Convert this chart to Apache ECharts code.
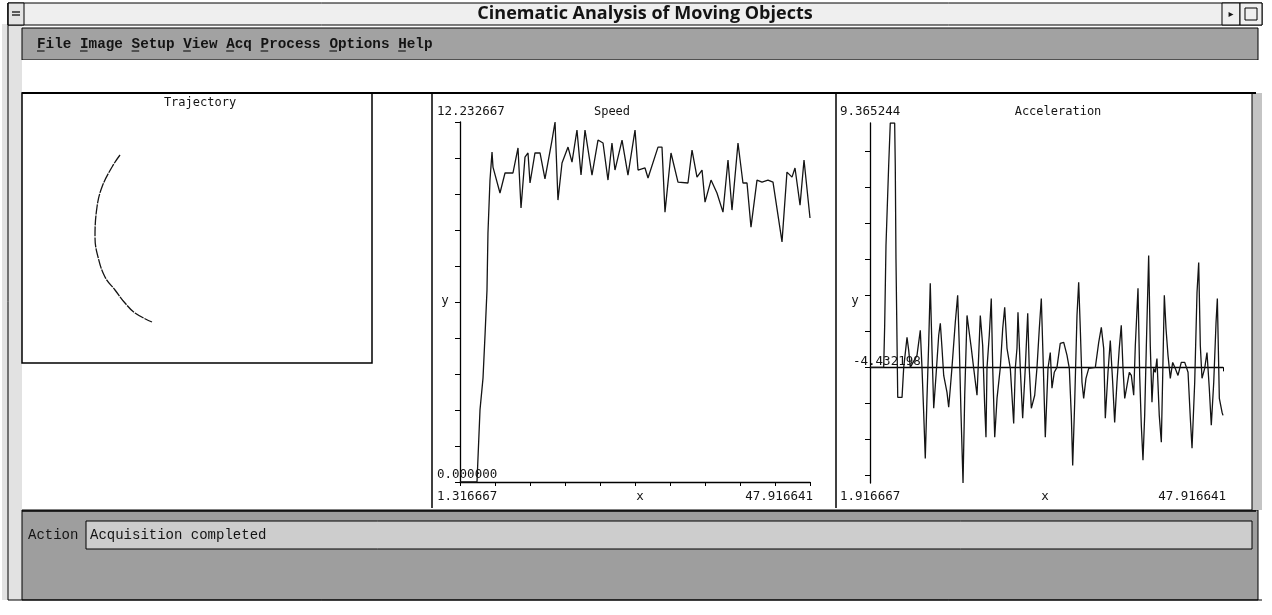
<!DOCTYPE html>
<html><head><meta charset="utf-8">
<script src="https://cdn.jsdelivr.net/npm/echarts@6/dist/echarts.min.js"></script>
<style>html,body{margin:0;padding:0;background:#fff}#c{width:1272px;height:615px}</style>
</head><body><div id="c"></div>
<script>
// ---------- texts ----------
const windowTitle = 'Cinematic Analysis of Moving Objects';
const menuItems = ['File','Image','Setup','View','Acq','Process','Options','Help'];
const panelTitles = ['Trajectory','Speed','Acceleration'];
const statusLabel = 'Action';
const statusText = 'Acquisition completed';

// ---------- trajectory (position units) ----------
const trajX = [9.8, 9.0, 8.0, 7.5, 7.3, 7.6, 8.3, 9.3, 10.3, 11.3, 13.0];
const trajY = [20.8, 19.6, 17.6, 15.6, 12.6, 10.6, 8.6, 7.3, 6.0, 5.0, 4.1];

// ---------- speed ----------
const speedRange = {xMin: 1.316667, xMax: 47.916641, yMin: 0, yMax: 12.232667};
const speedTickLabels = {top: '12.232667', bottom: '0.000000', left: '1.316667', right: '47.916641'};
const speedX = [1.316667, 3.58, 3.98, 4.38, 4.65, 4.91, 5.04, 5.31, 5.58, 5.71, 6.64, 7.31, 8.37, 9.04, 9.44, 9.97, 10.37, 10.64, 11.30, 11.97, 12.63, 13.57, 13.97, 14.36, 14.90, 15.70, 16.23, 16.89, 17.43, 17.96, 18.89, 19.69, 20.36, 21.02, 21.55, 21.95, 22.89, 23.68, 24.62, 25.02, 25.95, 26.35, 27.68, 28.21, 28.61, 29.41, 30.34, 31.67, 32.21, 32.87, 33.54, 33.94, 34.74, 35.53, 36.33, 37.00, 37.53, 38.33, 38.99, 39.53, 40.06, 40.86, 41.53, 42.32, 42.99, 44.19, 44.85, 45.52, 45.92, 46.59, 47.12, 47.916641];
const speedY = [0, 0, 2.45, 3.53, 5.00, 6.52, 8.46, 10.26, 11.21, 10.70, 9.82, 10.50, 10.50, 11.35, 9.31, 11.04, 11.18, 10.16, 11.18, 11.18, 10.30, 11.62, 12.232667, 9.58, 10.84, 11.38, 10.87, 11.96, 10.43, 11.96, 10.43, 11.62, 11.52, 10.26, 11.52, 10.60, 11.62, 10.43, 11.96, 10.60, 10.67, 10.33, 11.38, 11.38, 9.17, 11.18, 10.19, 10.16, 11.28, 10.36, 10.60, 9.51, 10.26, 9.82, 9.17, 10.94, 9.24, 11.52, 10.16, 10.16, 8.66, 10.26, 10.19, 10.26, 10.19, 8.16, 10.53, 10.36, 10.67, 9.41, 10.94, 8.97];

// ---------- acceleration ----------
const accelRange = {xMin: 1.916667, xMax: 47.916641, yMin: -4.432198, yMax: 9.365244};
const accelTickLabels = {top: '9.365244', bottom: '-4.432198', left: '1.916667', right: '47.916641'};
const accelX = [1.916667, 3.70, 3.83, 4.00, 4.35, 4.56, 5.13, 5.21, 5.30, 5.53,
  6.09, 6.31, 6.74, 6.96, 7.17, 8.04, 8.47, 8.69, 8.91, 9.12,
  9.34, 9.57, 9.77, 9.99, 10.22, 10.52, 10.87, 11.08, 11.30, 11.52,
  11.95, 12.17, 12.38, 12.60, 13.03, 13.34, 13.55, 13.77, 14.04, 14.26,
  14.56, 14.78, 15.12, 15.43, 15.86, 16.08, 16.29, 16.60, 16.86, 17.03,
  17.16, 17.46, 17.72, 17.91, 18.17, 18.47, 18.90, 19.21, 19.47, 19.77,
  20.20, 20.64, 20.85, 21.07, 21.20, 21.50, 21.81, 22.15, 22.47, 22.67,
  22.94, 23.38, 23.68, 23.98, 24.24, 24.46, 24.76, 25.11, 25.41, 25.63,
  25.93, 26.28, 26.71, 27.16, 27.59, 27.89, 28.15, 28.33, 28.59, 28.89,
  29.11, 29.32, 29.54, 29.76, 30.06, 30.42, 31.28, 31.72, 32.06, 32.37,
  32.58, 32.93, 33.23, 33.54, 33.80, 34.10, 34.40, 34.66, 34.88, 35.11,
  35.41, 35.71, 35.97, 36.28, 36.49, 36.84, 37.06, 37.27, 37.49, 37.71,
  37.92, 38.23, 38.44, 38.66, 38.88, 39.09, 39.31, 39.61, 39.88, 40.06,
  40.27, 40.49, 40.75, 41.05, 41.36, 41.70, 42.05, 42.48, 42.93, 43.36,
  43.66, 43.88, 44.23, 44.53, 44.75, 44.96, 45.18, 45.53, 45.83, 46.13,
  46.39, 46.71, 47.01, 47.18, 47.44, 47.79, 47.916641];
const accelY = [0, 0, 1.61, 4.68, 7.74, 9.365244, 9.365244, 7.74, 4.18, -1.15,
  -1.15, 0, 1.15, 0.65, 0, 0.46, 1.42, 0, -1.72, -3.49,
  -1.19, 0.96, 3.22, 0.73, -1.57, -0.31, 1.23, 1.69, 0.73, -0.31,
  -0.96, -1.53, -0.80, 0, 1.72, 2.76, 0.84, -1.72, -4.432198, -1.07,
  1.99, 1.49, 0.73, -0.04, -1.07, 0.46, 1.99, 0.84, -1.46, -2.68,
  -0.04, 1.23, 2.64, -0.04, -2.68, -1.19, 0, 1.49, 2.30, 0.73,
  -0.04, -2.15, -0.04, 0.73, 2.11, -0.04, -1.95, -0.04, 2.07, -0.04,
  -1.57, -1.07, 0, 1.49, 2.64, 0.46, -2.68, -0.04, 0.57, -0.80,
  -0.19, 0, 0.92, 0.96, 0.46, -0.04, -1.84, -3.76, -1.34, 1.99,
  3.26, 1.49, -0.57, -1.19, -0.42, -0.04, 0, 0.96, 1.53, 0.73,
  -1.95, -0.19, 1.03, -0.57, -2.11, -0.57, 0.73, 1.61, 0, -1.19,
  -0.69, -0.19, -0.31, -1.07, 0.84, 3.03, -0.31, -2.22, -3.56, -1.84,
  0.73, 4.29, 0.84, -1.34, -0.04, -0.19, 0.34, -1.84, -2.87, -0.31,
  2.76, 1.49, 0.46, -0.42, 0.19, -0.04, -0.31, 0.19, 0.19, -0.19,
  -1.95, -3.10, -0.57, 2.87, 4.02, 0.84, -0.42, -0.04, 0.57, -0.80,
  -2.22, -0.57, 1.72, 2.64, -1.19, -1.72, -1.84];

// ---------- helpers ----------
const zip = (a, b) => a.slice(0, Math.min(a.length, b.length)).map((v, i) => [v, b[i]]);
const evenTicks = (lo, hi, n) => Array.from({length: n + 1}, (_, i) => lo + (hi - lo) * i / n);
function zeroTicks(lo, hi, n) {
  const step = (hi - lo) / n, out = [];
  for (let k = Math.ceil(lo / step); k * step <= hi; k++) out.push(k * step);
  return out;
}

const MONO = '"DejaVu Sans Mono", monospace';
const INK = '#141414';
const txt = (text, x, y, font, align, extra) => Object.assign({
  type: 'text', x, y, z: 50,
  style: {text, font, fill: INK, align: align || 'left', verticalAlign: 'middle'}
}, extra || {});
const rect = (x, y, w, h, fill, stroke, lw, z) => ({
  type: 'rect', z: z === undefined ? -10 : z, shape: {x, y, width: w, height: h},
  style: {fill: fill || 'none', stroke: stroke || null, lineWidth: lw || 1}
});
const line = (x1, y1, x2, y2, lw, z) => ({
  type: 'line', z: z === undefined ? 5 : z, shape: {x1, y1, x2, y2},
  style: {stroke: '#000', lineWidth: lw || 1}
});

// ---------- chrome ----------
const graphics = [];
graphics.push(rect(0, 0, 1272, 615, '#ffffff', null, 1, -30));
graphics.push(rect(2, 24, 20, 576, '#e2e2e2', null, 1, -20));
graphics.push(line(8, 3, 8, 600, 1));
// title bar
graphics.push(rect(8, 3, 1254, 22, '#efefef', '#000', 1, -15));
graphics.push(rect(8, 3, 16, 22, '#e4e4e4', '#000', 1, -14));
graphics.push(line(12, 12, 20, 12, 1.2, 6));
graphics.push(line(12, 15, 20, 15, 1.2, 6));
graphics.push(rect(1222, 3, 18, 22, '#efefef', '#000', 1, -14));
graphics.push(rect(1240, 3, 22, 22, '#efefef', '#000', 1, -14));
graphics.push(rect(1245, 8, 12, 12, 'none', '#000', 1, 6));
graphics.push(txt('\u25B8', 1231, 14, '10px "DejaVu Sans"', 'center'));
graphics.push(txt(windowTitle, 645, 14, 'bold 18px "Open Sans", sans-serif', 'center'));
// menu bar
graphics.push(rect(22, 28, 1236, 32, '#a2a2a2', '#000', 1, -15));
const menuFont = 'bold 14.3px "Liberation Mono", monospace';
const cw = 8.6;
let mx = 37;
menuItems.forEach(m => {
  graphics.push(txt(m, mx, 44, menuFont, 'left'));
  graphics.push(line(mx, 51, mx + cw - 1, 51, 1, 6));
  mx += (m.length + 1) * cw;
});
// content area
graphics.push(rect(22, 60, 1236, 450, '#ffffff', null, 1, -15));
graphics.push(rect(1252, 93, 10, 417, '#c4c4c4', null, 1, -14));
graphics.push(line(22, 93, 1256, 93, 2));
graphics.push(line(432, 93, 432, 508, 1.5));
graphics.push(line(836, 93, 836, 508, 1.5));
graphics.push(line(1252, 93, 1252, 510, 1));
// trajectory box
graphics.push(rect(22, 93, 350, 270, 'none', '#000', 1.5, 5));
graphics.push(txt(panelTitles[0], 200, 103, '12px ' + MONO, 'center'));
// speed panel labels
graphics.push(txt(speedTickLabels.top, 437, 112, '12.5px ' + MONO, 'left'));
graphics.push(txt(panelTitles[1], 612, 112, '12px ' + MONO, 'center'));
graphics.push(txt(speedTickLabels.bottom, 437, 475, '12.5px ' + MONO, 'left'));
graphics.push(txt(speedTickLabels.left, 437, 497, '12.5px ' + MONO, 'left'));
graphics.push(txt('x', 640, 497, '12.5px ' + MONO, 'center'));
graphics.push(txt(speedTickLabels.right, 813, 497, '12.5px ' + MONO, 'right'));
graphics.push(txt('y', 445, 301, '12.5px ' + MONO, 'center'));
// acceleration panel labels
graphics.push(txt(accelTickLabels.top, 840, 112, '12.5px ' + MONO, 'left'));
graphics.push(txt(panelTitles[2], 1058, 112, '12px ' + MONO, 'center'));
graphics.push(txt(accelTickLabels.bottom, 853, 362, '12.5px ' + MONO, 'left'));
graphics.push(txt(accelTickLabels.left, 840, 497, '12.5px ' + MONO, 'left'));
graphics.push(txt('x', 1045, 497, '12.5px ' + MONO, 'center'));
graphics.push(txt(accelTickLabels.right, 1226, 497, '12.5px ' + MONO, 'right'));
graphics.push(txt('y', 855, 301, '12.5px ' + MONO, 'center'));
// status area
graphics.push(rect(22, 510, 1236, 90, '#9e9e9e', '#000', 1, -15));
graphics.push(line(22, 511, 1256, 511, 1.5));
graphics.push(rect(86, 521, 1166, 28, '#cdcdcd', '#000', 1, -14));
graphics.push(txt(statusLabel, 28, 535, '14px "Liberation Mono", monospace', 'left'));
graphics.push(txt(statusText, 90, 535, '14px "Liberation Mono", monospace', 'left'));
graphics.push(line(8, 600, 1262, 600, 1));

// ---------- chart ----------
const chart = echarts.init(document.getElementById('c'), null, {renderer: 'canvas'});
const axisLineStyle = {color: '#000', width: 1.3};
const hiddenAxis = (min, max) => ({type: 'value', min, max, show: false});

const option = {
  animation: false,
  backgroundColor: '#ffffff',
  grid: [
    {left: 22, top: 93, width: 350, height: 270, show: false},
    {left: 460, top: 122, width: 350, height: 360, show: false},
    {left: 870, top: 123, width: 353, height: 360, show: false}
  ],
  xAxis: [
    Object.assign(hiddenAxis(0, 35), {gridIndex: 0}),
    {
      type: 'value', gridIndex: 1, min: speedRange.xMin, max: speedRange.xMax,
      axisLine: {show: true, onZero: false, lineStyle: axisLineStyle},
      axisTick: {show: true, inside: false, length: 4, lineStyle: {color: '#000'},
        customValues: evenTicks(speedRange.xMin, speedRange.xMax, 10)},
      axisLabel: {show: false}, splitLine: {show: false}
    },
    {
      type: 'value', gridIndex: 2, min: accelRange.xMin, max: accelRange.xMax,
      axisLine: {show: true, onZero: true, lineStyle: axisLineStyle},
      axisTick: {show: true, inside: false, length: 4, lineStyle: {color: '#000'},
        customValues: [accelRange.xMax]},
      axisLabel: {show: false}, splitLine: {show: false}
    }
  ],
  yAxis: [
    Object.assign(hiddenAxis(0, 27), {gridIndex: 0}),
    {
      type: 'value', gridIndex: 1, min: speedRange.yMin, max: speedRange.yMax,
      axisLine: {show: true, onZero: false, lineStyle: axisLineStyle},
      axisTick: {show: true, inside: false, length: 5, lineStyle: {color: '#000'},
        customValues: evenTicks(speedRange.yMin, speedRange.yMax, 10)},
      axisLabel: {show: false}, splitLine: {show: false}
    },
    {
      type: 'value', gridIndex: 2, min: accelRange.yMin, max: accelRange.yMax,
      axisLine: {show: true, onZero: false, lineStyle: axisLineStyle},
      axisTick: {show: true, inside: false, length: 5, lineStyle: {color: '#000'},
        customValues: zeroTicks(accelRange.yMin, accelRange.yMax, 10)},
      axisLabel: {show: false}, splitLine: {show: false}
    }
  ],
  graphic: graphics,
  series: [
    {type: 'line', xAxisIndex: 0, yAxisIndex: 0, data: zip(trajX, trajY), smooth: 0.4,
      showSymbol: false, lineStyle: {color: INK, width: 1.3, type: [10, 1]}, z: 10},
    {type: 'line', xAxisIndex: 1, yAxisIndex: 1, data: zip(speedX, speedY),
      showSymbol: false, lineStyle: {color: INK, width: 1.3}, z: 10},
    {type: 'line', xAxisIndex: 2, yAxisIndex: 2, data: zip(accelX, accelY),
      showSymbol: false, lineStyle: {color: INK, width: 1.3}, z: 10}
  ]
};
chart.setOption(option);
</script>
</body></html>
